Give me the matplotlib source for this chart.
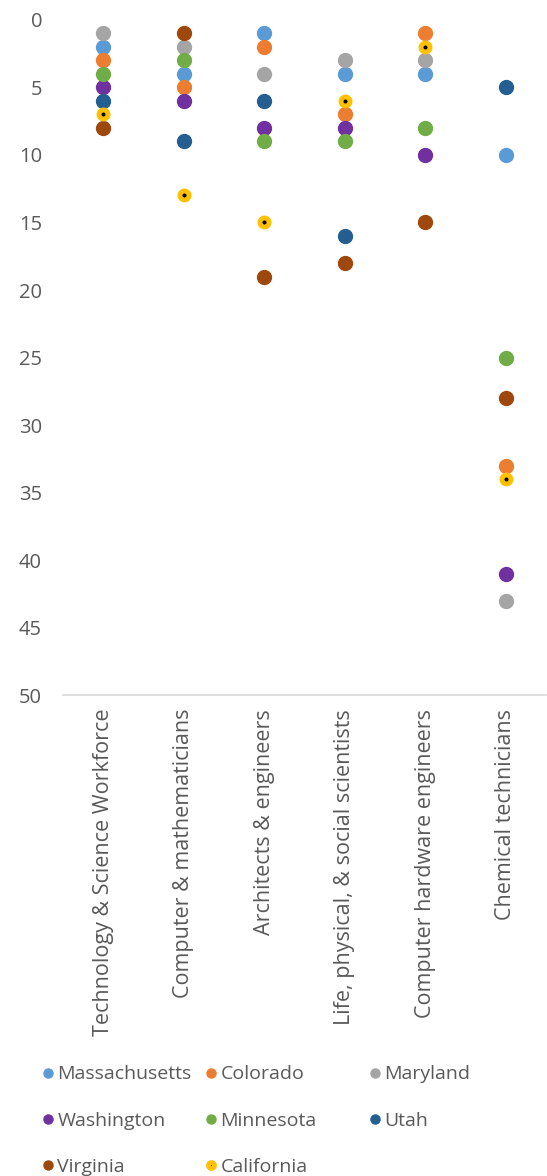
import numpy as np
import matplotlib.pyplot as plt

plt.rcParams['font.family'] = ['Open Sans', 'DejaVu Sans']

categories = ['Technology & Science Workforce', 'Computer & mathematicians',
              'Architects & engineers', 'Life, physical, & social scientists',
              'Computer hardware engineers', 'Chemical technicians']

# state rank in each occupation group (lower = better)
massachusetts = [2, 4, 1, 4, 4, 10]
colorado = [3, 5, 2, 7, 1, 33]
maryland = [1, 2, 4, 3, 3, 43]
washington = [5, 6, 8, 8, 10, 41]
minnesota = [4, 3, 9, 9, 8, 25]
utah = [6, 9, 6, 16, np.nan, 5]
virginia = [8, 1, 19, 18, 15, 28]
california = [7, 13, 15, 6, 2, 34]

series = [
    ('Massachusetts', massachusetts, '#5B9BD5'),
    ('Colorado', colorado, '#ED7D31'),
    ('Maryland', maryland, '#A5A5A5'),
    ('Washington', washington, '#7030A0'),
    ('Minnesota', minnesota, '#70AD47'),
    ('Utah', utah, '#255E91'),
    ('Virginia', virginia, '#9E480E'),
]

fig = plt.figure(figsize=(5.47, 11.76), dpi=100)
ax = fig.add_axes([0.115, 0.409, 0.883, 0.574])

x = np.arange(len(categories))
handles = {}
for name, vals, col in series:
    h, = ax.plot(x, vals, 'o', ms=10, color=col, mec=col, label=name)
    handles[name] = h
h, = ax.plot(x, california, 'o', ms=6.5, mfc='black', mec='#FFC000', mew=3.5,
             label='California')
handles['California'] = h

ax.set_xlim(-0.5, 5.5)
ax.set_ylim(50, 0)
ax.set_yticks(range(0, 51, 5))
ax.set_xticks(x)
ax.set_xticklabels(categories, rotation=90, fontsize=15.5)
ax.tick_params(length=0, colors='#595959')
ax.tick_params(axis='y', labelsize=14.5, pad=15)
ax.tick_params(axis='x', pad=10)
for s in ['top', 'right', 'left']:
    ax.spines[s].set_visible(False)
ax.spines['bottom'].set_color('#D9D9D9')
ax.spines['bottom'].set_linewidth(1.2)

# legend laid out as three fixed columns
cols = [(['Massachusetts', 'Washington', 'Virginia'], 0.078),
        (['Colorado', 'Minnesota', 'California'], 0.376),
        (['Maryland', 'Utah'], 0.676)]
for names, xpos in cols:
    leg = fig.legend([handles[n] for n in names], names, loc='upper left',
                     bbox_to_anchor=(xpos, 0.094), frameon=False, fontsize=14,
                     markerscale=0.65, handlelength=0.5, handletextpad=0.25,
                     labelspacing=1.45, borderaxespad=0, borderpad=0)
    for t in leg.get_texts():
        t.set_color('#595959')

fig.savefig('out.png', dpi=100)
